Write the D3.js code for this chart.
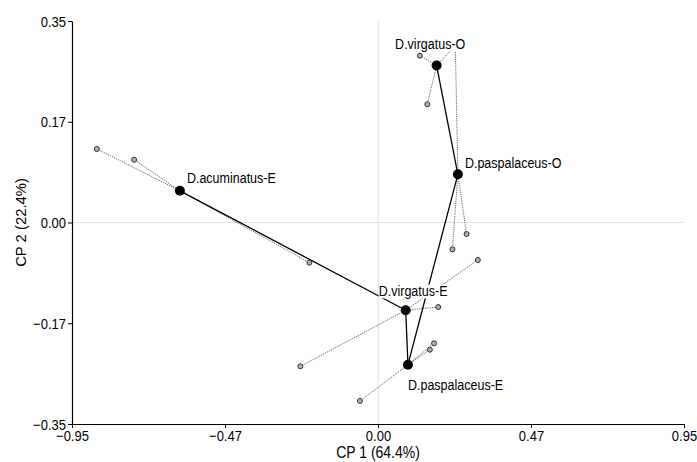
<!DOCTYPE html>
<html>
<head>
<meta charset="utf-8">
<script src="https://cdn.jsdelivr.net/npm/d3@7"></script>
<style>
  body { margin: 0; background: #fff; }
  text { font-family: "Liberation Sans", Arial, sans-serif; fill: #000; }
</style>
</head>
<body>
<svg width="697" height="462"></svg>
<script>
var width = 697;
var height = 462;

// group centroids
var groups = ["D.acuminatus-E", "D.virgatus-E", "D.paspalaceus-E", "D.virgatus-O", "D.paspalaceus-O"];
var groupX = [-0.615, 0.086, 0.093, 0.182, 0.248];
var groupY = [0.055, -0.1525, -0.247, 0.2727, 0.0837];

// individual points, with index of their group
var pointGroup = [0, 0, 0, 1, 1, 1, 2, 2, 2, 3, 3, 3, 4, 4, 4];
var pointX = [-0.873, -0.757, -0.213, -0.241, 0.187, 0.310, -0.056, 0.174, 0.161, 0.130, 0.153, 0.242, 0.275, 0.231, 0.240];
var pointY = [0.1277, 0.109, -0.0698, -0.2498, -0.1468, -0.0651, -0.310, -0.2098, -0.221, 0.2897, 0.2053, 0.308, -0.020, -0.0466, 0.310];

// links between centroids (minimum spanning tree)
var linkFrom = [0, 1, 2, 4];
var linkTo = [1, 2, 4, 3];

var xTicks = [-0.95, -0.475, 0, 0.475, 0.95];
var yTicks = [-0.35, -0.175, 0, 0.175, 0.35];
var xTitle = "CP 1 (64.4%)";
var yTitle = "CP 2 (22.4%)";

// label offsets from centroid, px
var labelDx = [7, -27, 0, -41.5, 7];
var labelDy = [-8, -14, 25, -16.5, -6];

var stretch = " scale(1,1.15)";

var x = d3.scaleLinear().domain([-0.95, 0.95]).range([72, 684]);
var y = d3.scaleLinear().domain([-0.35, 0.35]).range([424, 21]);
var fmt = d3.format(".2f");

var chart = d3.select("svg");

// zero lines
chart.append("line")
    .attr("x1", x(0)).attr("x2", x(0))
    .attr("y1", y(0.35)).attr("y2", y(-0.35))
    .attr("stroke", "#e3e3e3").attr("stroke-width", 1.2);
chart.append("line")
    .attr("x1", x(-0.95)).attr("x2", x(0.95))
    .attr("y1", y(0)).attr("y2", y(0))
    .attr("stroke", "#e3e3e3").attr("stroke-width", 1.2);

// axes
var xAxis = chart.append("g")
    .attr("transform", "translate(0," + y(-0.35) + ")")
    .call(d3.axisBottom(x).tickValues(xTicks).tickFormat(fmt).tickSize(4).tickSizeOuter(0));
var yAxis = chart.append("g")
    .attr("transform", "translate(" + x(-0.95) + ",0)")
    .call(d3.axisLeft(y).tickValues(yTicks).tickFormat(fmt).tickSize(4).tickSizeOuter(0));

[xAxis, yAxis].forEach(function (g) {
    g.select(".domain").attr("stroke", "#000").attr("stroke-width", 1.2);
    g.selectAll(".tick line").attr("stroke", "#000");
    g.selectAll(".tick text")
        .style("font-family", "Liberation Sans, Arial, sans-serif")
        .attr("font-size", "13px")
        .attr("fill", "#000");
});
// stretch tick labels vertically like the original
xAxis.selectAll(".tick text")
    .attr("y", 0).attr("dy", 0)
    .attr("transform", "translate(0,17)" + stretch);
yAxis.selectAll(".tick text")
    .attr("x", 0).attr("dy", 0)
    .attr("transform", "translate(-6,5)" + stretch);

// axis titles
chart.append("text")
    .attr("transform", "translate(" + x(0) + ",458)" + stretch)
    .attr("text-anchor", "middle")
    .attr("font-size", "14px")
    .text(xTitle);
chart.append("text")
    .attr("transform", "translate(26," + y(0) + ") rotate(-90) scale(1.06,1.1)")
    .attr("text-anchor", "middle")
    .attr("font-size", "14px")
    .text(yTitle);

// member lines (dotted)
chart.selectAll(".member-line")
    .data(pointX)
    .enter()
    .append("line")
    .attr("class", "member-line")
    .attr("x1", function (d, i) { return x(groupX[pointGroup[i]]); })
    .attr("y1", function (d, i) { return y(groupY[pointGroup[i]]); })
    .attr("x2", function (d, i) { return x(pointX[i]); })
    .attr("y2", function (d, i) { return y(pointY[i]); })
    .attr("stroke", "#444")
    .attr("stroke-width", 0.8)
    .attr("stroke-dasharray", "1.2,1");

// centroid links
chart.selectAll(".link")
    .data(linkFrom)
    .enter()
    .append("line")
    .attr("class", "link")
    .attr("x1", function (d) { return x(groupX[d]); })
    .attr("y1", function (d) { return y(groupY[d]); })
    .attr("x2", function (d, i) { return x(groupX[linkTo[i]]); })
    .attr("y2", function (d, i) { return y(groupY[linkTo[i]]); })
    .attr("stroke", "#000")
    .attr("stroke-width", 1.3);

// member points
chart.selectAll(".pt")
    .data(pointX)
    .enter()
    .append("circle")
    .attr("class", "pt")
    .attr("cx", function (d) { return x(d); })
    .attr("cy", function (d, i) { return y(pointY[i]); })
    .attr("r", 2.5)
    .attr("fill", "#b0b0b0")
    .attr("stroke", "#333")
    .attr("stroke-width", 1);

// centroids
chart.selectAll(".centroid")
    .data(groups)
    .enter()
    .append("circle")
    .attr("class", "centroid")
    .attr("cx", function (d, i) { return x(groupX[i]); })
    .attr("cy", function (d, i) { return y(groupY[i]); })
    .attr("r", 5)
    .attr("fill", "#000");

// labels with white background
var labels = chart.selectAll(".label")
    .data(groups)
    .enter()
    .append("g")
    .attr("class", "label")
    .attr("transform", function (d, i) {
        return "translate(" + (x(groupX[i]) + labelDx[i]) + "," + (y(groupY[i]) + labelDy[i]) + ")" + stretch;
    });
labels.append("text")
    .attr("font-size", "12.5px")
    .text(function (d) { return d; });
labels.each(function () {
    var g = d3.select(this);
    var bb = g.select("text").node().getBBox();
    g.insert("rect", "text")
        .attr("x", bb.x)
        .attr("y", bb.y + 1)
        .attr("width", bb.width)
        .attr("height", bb.height - 2)
        .attr("fill", "#fff");
});
</script>
</body>
</html>
